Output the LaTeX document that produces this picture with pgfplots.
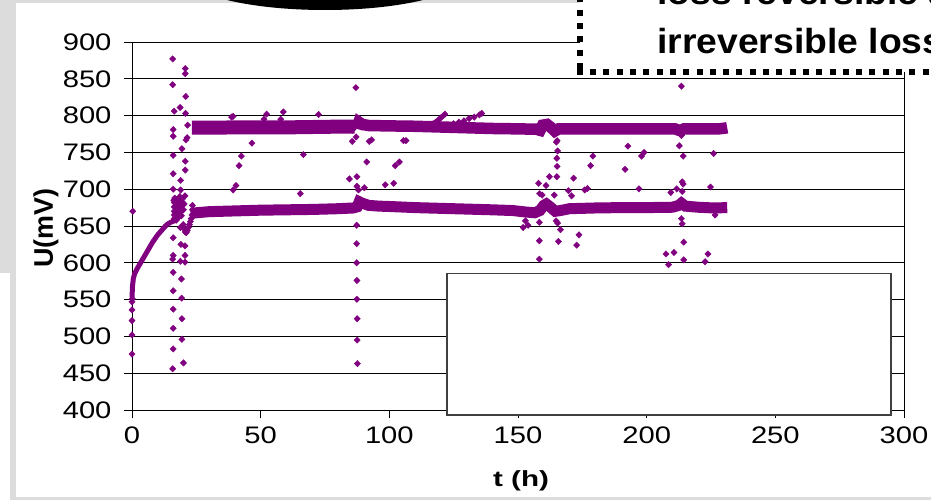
\documentclass[border=0pt]{standalone}
\usepackage{pgfplots}
\pgfplotsset{compat=1.18}
\usepackage{graphicx}
\usepackage{fontspec}
\setmainfont{Liberation Sans}
\definecolor{purp}{RGB}{128,0,128}
\definecolor{slidegray}{RGB}{220,220,220}
\begin{document}
\begin{tikzpicture}
\useasboundingbox (0,0) rectangle (931bp,-500bp);
\clip (0,0) rectangle (931bp,-500bp);
\begin{axis}[
  at={(132bp,-410bp)}, anchor=south west,
  scale only axis, width=772bp, height=368bp,
  xmin=0, xmax=300, ymin=400, ymax=900,
  xtick={0,50,...,300}, ytick={400,450,...,900},
  tick align=outside, tick pos=left,
  major tick length=8bp,
  tick style={black, line width=0.8bp},
  ymajorgrids, grid style={black, line width=0.8bp},
  axis line style={black, line width=1bp},
  clip=false,
  ticklabel style={font=\fontsize{24}{24}\selectfont},
  yticklabel style={xshift=-9bp},
  xticklabel style={yshift=-5bp},
  xticklabel={\scalebox{1.22}[1]{\pgfmathprintnumber[assume math mode=true]{\tick}}},
  yticklabel={\scalebox{1.22}[1]{\pgfmathprintnumber[assume math mode=true]{\tick}}},
  xlabel={\scalebox{1.35}[1]{\textbf{t (h)}}},
  ylabel={\textbf{U(mV)}},
  xlabel style={font=\fontsize{22}{22}\selectfont, at={(axis description cs:0.504,-0.193)}, anchor=center},
  ylabel style={font=\fontsize{27}{27}\selectfont, at={(axis description cs:-0.1114,0.4946)}, anchor=center},
]
% initial rise
\addplot[purp, line width=5bp, no markers] coordinates {
(0,553) (0.2,568) (0.5,578) (1,585) (2,592) (3,598) (4,604) (5,610) (6,616) (7,622)
(8,628) (9,633) (10,638) (11,642) (12,646) (13,650) (14,653) (15,655) (16,656.5) (17,657.5)};
% upper band
\addplot[purp, line width=14bp, no markers] coordinates {
(23.3,783.5) (25,783.5) (30,783.5) (40,784) (50,784) (60,784) (70,784.5) (80,785) (86.5,785) (87.4,782.5)};
\addplot[purp, line width=11.5bp, no markers] coordinates {
(87.4,782) (88.2,791) (89.5,788) (92,786.5) (100,786) (110,785.5) (120,784.5) (130,783.5) (140,782.5)
(150,782) (157,781.5) (158.6,780) (159.6,787) (161.3,788) (162.8,784) (164.3,779) (165.8,782)
(175,782) (190,782) (200,782) (211,782) (213,779.5) (214.5,782) (220,782) (228,782) (230.5,783) (231.3,783.5)};
% lower band
\addplot[purp, line width=11bp, no markers] coordinates {
(22.8,667) (25,668) (30,669.5) (40,670.5) (50,671.5) (60,672) (70,672.5) (80,673.5) (86,674.5)
(87.5,676) (88.3,683) (89.5,681) (92,678) (96,677) (100,676.5) (110,675) (120,674) (130,673)
(140,672) (148,671) (153,669) (156.5,668) (158.5,671) (160,678) (161,680) (162.5,676) (164.5,670)
(166.5,671) (170,673.5) (180,674.5) (190,675) (200,675) (210,675.5) (212.5,678) (213.5,681)
(215,677) (220,675.5) (226,674.5) (231.3,675)};
% scattered points
\addplot[only marks, mark=diamond*, mark size=3.2bp, mark options={xscale=1.3}, purp] coordinates {
(0,476) (0,502) (0,521.5) (0,536) (0,547) (0.1,551) (0.3,670)
(15.8,877) (15.8,842) (16.4,806) (16,781) (16,772) (16,746) (16,721) (16,700) (16.2,685)
(16,634) (16,610) (15.8,605) (16,587) (16,562) (16,537) (16,511) (16,483) (15.8,456)
(18.7,811) (19.4,755) (18.9,712) (18.9,699) (18.8,648) (19,625) (18.8,602) (19.2,578)
(19.3,552) (19.4,524) (19.4,496) (20,464)
(20.7,864) (20.7,857) (20.9,826) (20.8,803) (21.6,787) (21.4,770) (21,767) (20.7,738)
(20.7,726) (20.6,691) (20.6,623) (20.6,610) (20.6,601)
(16.4,660) (16.4,665) (16.4,670) (16.4,676) (16.4,682) (16.6,688) (17.2,658) (17.2,663)
(17.2,668) (17.2,674) (17.2,680) (17.4,686) (18.2,662) (18.2,667) (18.2,672) (18.2,678)
(18.4,684) (18.6,690) (19.2,664) (19.2,670) (19.2,676) (19.4,682) (19.6,687) (20,672) (20.3,680)
(19.9,652) (20.3,646) (20.7,642) (21.1,641) (21.5,644) (21.9,648) (22.3,652) (22.7,656)
(23,660) (23.3,665) (23.5,672) (23.5,678)
(38.7,798) (39.3,799) (39.3,699) (40.4,705) (41.6,732) (42.5,745) (46.6,762.6) (51.3,795)
(52.3,802) (57.8,795) (58.8,805) (65.4,694) (66.6,747) (72.5,801.5)
(84.5,714) (85.6,765) (87.1,771) (87,838) (87.4,717) (87.4,704) (88,699) (90.3,702) (91.2,737)
(92.2,765) (93.1,767) (98.4,706) (101.7,708) (102.3,732) (103.9,737) (105.5,766) (106.5,766)
(87.3,651) (87.3,626) (87.3,600) (87.4,576) (87.4,550.5) (87.5,524) (87.5,495) (87.6,463) (88.3,796)
(117,789) (118,791) (119,794) (120,797) (121,800) (121.6,802) (125,789) (127,791) (129,793)
(131,796) (133,798) (135,801) (135.9,803)
(152,648) (152.9,657) (153.9,651) (158,708) (158.4,694) (159.4,692) (160.9,705) (162.2,717)
(158.3,655) (158.3,630) (158.3,605) (164.1,692) (164.8,657) (165.4,654) (165.1,717) (165.2,731)
(165.1,742) (165.4,752) (165.2,766) (164.9,764) (166.5,645) (165.7,629) (169.6,698) (170.8,691)
(171.6,715) (173.7,638) (172.8,624) (175.9,699) (177,701) (178.2,732) (179.1,745) (191.6,727)
(192.7,758.5) (197,700.5) (198,745) (199,750) (207.5,612) (208.5,597.5) (209.4,695.6) (210.6,614)
(211.7,700.5) (212.7,759) (213.5,840) (213.5,773) (214.2,745) (213.8,710) (214.2,707) (213.8,697)
(213.5,660) (213.8,653) (214.4,628) (214.4,604) (222.7,601.5) (223.8,612) (224.8,703) (226,748.5)
(226.6,665)};
\end{axis}
\begin{scope}[x=1bp,y=-1bp]
% slide background pieces
\fill[slidegray] (0,0) rectangle (931,3);
\fill[slidegray] (0,0) rectangle (16,273);
\fill[slidegray] (10,273) rectangle (16,500);
\fill[slidegray] (10,497) rectangle (931,500);
% empty legend box
\filldraw[fill=white, draw=black!75, line width=1.2bp] (447,273.5) rectangle (891,415);
% callout box
\fill[white] (579.7,-10) rectangle (940,72);
\draw[black, line width=5.7bp, dash pattern=on 6bp off 7.3bp] (579.7,69) -- (579.7,-10);
\draw[black, line width=5.7bp, dash pattern=on 6bp off 7.3bp] (576.85,72) -- (945,72);
\node[anchor=base west, inner sep=0, font=\bfseries\fontsize{35}{35}\selectfont] at (657,53) {\scalebox{1.07}[1]{irreversible loss}};
\node[anchor=base west, inner sep=0, font=\bfseries\fontsize{35}{35}\selectfont] at (657,4) {\scalebox{1.07}[1]{loss reversible and}};
% black shape at top
\fill[black] (325,-25) ellipse [x radius=140, y radius=35];
\end{scope}
\end{tikzpicture}
\end{document}
